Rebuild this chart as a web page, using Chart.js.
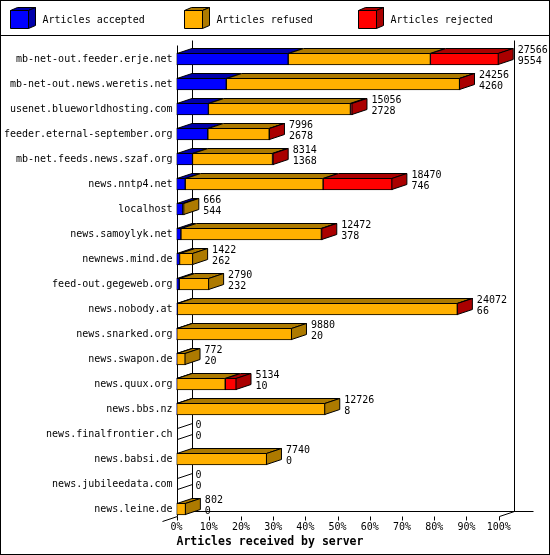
<!DOCTYPE html>
<html>
<head>
<meta charset="utf-8">
<title>Articles received by server</title>
<script src="https://cdn.jsdelivr.net/npm/chart.js@4.4.1/dist/chart.umd.min.js"></script>
<style>
    html, body { margin: 0; padding: 0; background: #fff; }
    #serverChart { display: block; }
</style>
</head>
<body>
<canvas id="serverChart" width="550" height="555"></canvas>
<script>
// Servers and article counts
const servers = [
    'mb-net-out.feeder.erje.net', 'mb-net-out.news.weretis.net', 'usenet.blueworldhosting.com',
    'feeder.eternal-september.org', 'mb-net.feeds.news.szaf.org', 'news.nntp4.net', 'localhost',
    'news.samoylyk.net', 'newnews.mind.de', 'feed-out.gegeweb.org', 'news.nobody.at',
    'news.snarked.org', 'news.swapon.de', 'news.quux.org', 'news.bbs.nz',
    'news.finalfrontier.ch', 'news.babsi.de', 'news.jubileedata.com', 'news.leine.de'
];
const accepted = [9554, 4260, 2728, 2678, 1368, 746, 544, 378, 262, 232, 66, 20, 20, 10, 8, 0, 0, 0, 0];
const refused = [12168, 19956, 12152, 5258, 6846, 11797, 122, 12019, 1160, 2558, 23966, 9860, 752, 4160, 12718, 0, 7740, 0, 802];
const rejected = [5844, 40, 176, 60, 100, 5927, 0, 75, 0, 0, 40, 0, 0, 964, 0, 0, 0, 0, 0];

const seriesLabels = ['Articles accepted', 'Articles refused', 'Articles rejected'];
const frontColors = ['#0000ff', '#ffb000', '#ff0000'];
const darkColors = ['#0000aa', '#ad7a00', '#aa0000'];

const totals = servers.map((s, i) => accepted[i] + refused[i] + rejected[i]);
const maxTotal = Math.max(...totals);

const MONO = '"DejaVu Sans Mono", monospace';
const DX = 15;  // depth of the 3d bars
const DY = 5;

Chart.defaults.font.family = MONO;
Chart.defaults.font.size = 10;
Chart.defaults.color = '#000';

function poly(ctx, pts, fill) {
    ctx.beginPath();
    ctx.moveTo(pts[0][0], pts[0][1]);
    for (let i = 1; i < pts.length; i++) ctx.lineTo(pts[i][0], pts[i][1]);
    ctx.closePath();
    if (fill) {
        ctx.fillStyle = fill;
        ctx.fill();
    }
    ctx.stroke();
}

function line(ctx, x1, y1, x2, y2) {
    ctx.beginPath();
    ctx.moveTo(x1, y1);
    ctx.lineTo(x2, y2);
    ctx.stroke();
}

// little cube for the legend
function drawCube(ctx, x, y, size, front, dark) {
    const d = 7, h = 3;
    poly(ctx, [[x, y], [x + d, y - h], [x + size + d, y - h], [x + size, y]], dark);
    poly(ctx, [[x + size, y], [x + size + d, y - h], [x + size + d, y + size - h], [x + size, y + size]], dark);
    poly(ctx, [[x, y], [x + size, y], [x + size, y + size], [x, y + size]], front);
}

const depthPlugin = {
    id: 'depth3d',
    beforeDraw(chart) {
        const ctx = chart.ctx;
        ctx.save();
        ctx.fillStyle = '#fff';
        ctx.fillRect(0, 0, chart.width, chart.height);
        ctx.restore();
    },
    beforeDatasetsDraw(chart) {
        // walls and floor behind the bars
        const ctx = chart.ctx;
        const xs = chart.scales.x;
        const area = chart.chartArea;
        const x0 = Math.round(xs.getPixelForValue(0)) + 0.5;
        const x100 = Math.round(xs.getPixelForValue(maxTotal)) + 0.5;
        const frontTop = Math.round(area.top - 2) + 0.5;
        const frontBottom = Math.round(area.bottom - 6) + 0.5;
        ctx.save();
        ctx.strokeStyle = '#000';
        ctx.lineWidth = 1;
        line(ctx, x0, frontTop, x0, frontBottom);
        line(ctx, x0 + DX, frontTop - DY, x0 + DX, frontBottom - DY);
        line(ctx, x100 + DX, frontTop - DY, x100 + DX, frontBottom - DY);
        line(ctx, x0 + DX, frontBottom - DY, x100 + DX + 19, frontBottom - DY);
        line(ctx, x0 - DX, frontBottom + DY, x0, frontBottom);
        line(ctx, x100, frontBottom, x100 + DX, frontBottom - DY);
        xs.ticks.forEach(t => {
            const px = Math.round(xs.getPixelForValue(t.value)) + 0.5;
            line(ctx, px, frontBottom, px, frontBottom + 4);
        });
        ctx.restore();
    },
    afterDatasetsDraw(chart) {
        const ctx = chart.ctx;
        const x0 = chart.scales.x.getPixelForValue(0);
        const metas = chart.data.datasets.map((d, i) => chart.getDatasetMeta(i));
        ctx.save();
        ctx.strokeStyle = '#000';
        ctx.lineWidth = 1;
        servers.forEach((name, j) => {
            const bars = metas.map(m => m.data[j].getProps(['x', 'y', 'base', 'height'], true));
            const top = bars[0].y - bars[0].height / 2 + 0.5;
            const bottom = bars[0].y + bars[0].height / 2 - 0.5;
            let last = -1;
            bars.forEach((bar, i) => {
                const a = Math.min(bar.base, bar.x);
                const b = Math.max(bar.base, bar.x);
                if (b - a < 0.01) return;
                last = i;
                poly(ctx, [[a + 0.5, top], [a + 0.5 + DX, top - DY], [Math.max(a + 0.5, b - 0.5) + DX, top - DY], [Math.max(a + 0.5, b - 0.5), top]], darkColors[i]);
            });
            const end = last >= 0 ? Math.max(bars[last].x, bars[last].base) - 0.5 : Math.round(x0) + 0.5;
            poly(ctx, [[end, top], [end + DX, top - DY], [end + DX, bottom - DY], [end, bottom]],
                last >= 0 ? darkColors[last] : null);

            // total and accepted next to the bar
            const cy = bars[0].y;
            const tx = (last >= 0 ? end + 0.5 : x0) + DX + 4;
            ctx.fillStyle = '#000';
            ctx.font = '10px ' + MONO;
            ctx.textAlign = 'left';
            ctx.textBaseline = 'middle';
            ctx.fillText(String(totals[j]), tx, cy - 8.5);
            ctx.fillText(String(accepted[j]), tx, cy + 2.5);
        });
        ctx.restore();
    },
    afterDraw(chart) {
        const ctx = chart.ctx;
        ctx.save();
        ctx.strokeStyle = '#000';
        ctx.lineWidth = 1;
        ctx.strokeRect(0.5, 0.5, chart.width - 1, chart.height - 1);
        line(ctx, 0, 35.5, chart.width, 35.5);

        // legend with 3d boxes
        chart.data.datasets.forEach((ds, i) => {
            const lx = 10.5 + i * 174;
            drawCube(ctx, lx, 10.5, 18, frontColors[i], darkColors[i]);
            ctx.fillStyle = '#000';
            ctx.font = '10px ' + MONO;
            ctx.textAlign = 'left';
            ctx.textBaseline = 'middle';
            ctx.fillText(ds.label, lx + 32, 20);
        });
        ctx.restore();
    }
};

function createServerChart() {
    const ctx = document.getElementById('serverChart').getContext('2d');
    const seriesValues = [accepted, refused, rejected];

    window.serverChart = new Chart(ctx, {
        type: 'bar',
        data: {
            labels: servers,
            datasets: seriesLabels.map((label, i) => ({
                label: label,
                data: seriesValues[i],
                backgroundColor: frontColors[i],
                borderColor: '#000',
                borderWidth: 1,
                borderSkipped: false,
                barThickness: 12
            }))
        },
        options: {
            indexAxis: 'y',
            responsive: false,
            animation: false,
            layout: {
                padding: { top: 46.5, right: 51.3, bottom: 0, left: 0 }
            },
            plugins: {
                legend: { display: false },
                tooltip: { enabled: false }
            },
            scales: {
                x: {
                    stacked: true,
                    min: 0,
                    max: maxTotal,
                    grid: { display: false, drawTicks: false },
                    border: { display: false },
                    afterBuildTicks: function (scale) {
                        scale.ticks = [0, 1, 2, 3, 4, 5, 6, 7, 8, 9, 10].map(k => ({ value: maxTotal * k / 10 }));
                    },
                    afterFit: function (scale) {
                        scale.height = 33.5;
                    },
                    ticks: {
                        padding: 0,
                        maxRotation: 0,
                        autoSkip: false,
                        callback: function (value) {
                            return Math.round(value / maxTotal * 100) + '%';
                        }
                    },
                    title: {
                        display: true,
                        text: 'Articles received by server',
                        align: 'start',
                        color: '#000',
                        font: { family: MONO, size: 11.5, weight: 'bold' },
                        padding: { top: 0, bottom: 6 }
                    }
                },
                y: {
                    stacked: true,
                    grid: { display: false, drawTicks: false },
                    border: { display: false },
                    afterFit: function (scale) {
                        scale.width = 176.5;
                    },
                    ticks: {
                        padding: 4,
                        autoSkip: false
                    }
                }
            }
        },
        plugins: [depthPlugin]
    });
}

window.addEventListener('load', function () {
    createServerChart();
});
</script>
</body>
</html>
